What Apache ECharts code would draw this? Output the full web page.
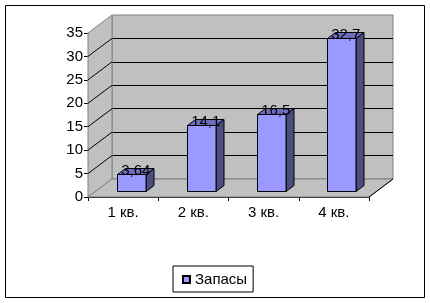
<!DOCTYPE html>
<html>
<head>
<meta charset="utf-8">
<script src="https://cdn.jsdelivr.net/npm/echarts@6/dist/echarts.min.js"></script>
<style>html,body{margin:0;padding:0;background:#fff}#c{width:430px;height:303px}</style>
</head>
<body>
<div id="c"></div>
<script>
const categories = ['1 кв.', '2 кв.', '3 кв.', '4 кв.'];
const values = [3.64, 14.1, 16.5, 32.7];
const valueLabels = ['3,64', '14,1', '16,5', '32,7'];
const seriesName = 'Запасы';
const yMin = 0, yMax = 35, yStep = 5;

const DX = 24, DY = -18;           // full depth offset
const FONT = '"Liberation Sans", Arial, sans-serif';
const FS = 15;

const chart = echarts.init(document.getElementById('c'), null, {renderer: 'canvas'});

function wallsRender(params, api) {
  if (params.dataIndex !== 0) return null;
  const cs = params.coordSys;
  const x0 = cs.x, x1 = cs.x + cs.width, yT = cs.y, yB = cs.y + cs.height;
  const children = [];
  children.push({type: 'polygon', shape: {points: [[x0, yB], [x0, yT], [x0 + DX, yT + DY], [x0 + DX, yB + DY]]},
    style: {fill: '#c0c0c0', stroke: '#808080', lineWidth: 1}});
  children.push({type: 'polygon', shape: {points: [[x0, yB], [x1, yB], [x1 + DX, yB + DY], [x0 + DX, yB + DY]]},
    style: {fill: '#c0c0c0', stroke: '#808080', lineWidth: 1}});
  for (let v = yMin + yStep; v < yMax; v += yStep) {
    const p = api.coord([0, v]);
    children.push({type: 'line', shape: {x1: x0, y1: p[1], x2: x0 + DX, y2: p[1] + DY},
      style: {stroke: '#000', lineWidth: 1}});
  }
  children.push({type: 'line', shape: {x1: x1, y1: yB, x2: x1 + DX, y2: yB + DY}, style: {stroke: '#000', lineWidth: 1}});
  return {type: 'group', children: children};
}

function barRender(params, api) {
  const i = api.value(0), v = api.value(1);
  const base = api.coord([i, 0]);
  const top = api.coord([i, v]);
  const band = api.size([1, 0])[0];
  const w = band * 0.41;
  const fx = DX / 3, fy = DY / 3;
  const dx = DX / 3, dy = DY / 3;
  const x0 = Math.round(base[0] - w / 2 + fx) + 0.5;
  const x1 = Math.round(x0 + w);
  const yb = Math.round(base[1] + fy) + 0.5;
  const yt = Math.round(top[1] + fy) + 0.5;
  const st = {stroke: '#000', lineWidth: 1};
  return {type: 'group', children: [
    {type: 'polygon', shape: {points: [[x1, yb], [x1, yt], [x1 + dx, yt + dy], [x1 + dx, yb + dy]]},
      style: Object.assign({fill: '#4d4d80'}, st)},
    {type: 'polygon', shape: {points: [[x0, yt], [x1, yt], [x1 + dx, yt + dy], [x0 + dx, yt + dy]]},
      style: Object.assign({fill: '#6e6ebb'}, st)},
    {type: 'rect', shape: {x: x0, y: yt, width: x1 - x0, height: yb - yt},
      style: Object.assign({fill: '#9999ff'}, st)},
    {type: 'text', x: (x0 + x1) / 2 + dx / 2, y: yt + dy / 2 - 1,
      style: {text: valueLabels[params.dataIndex], fill: '#000', font: FS + 'px ' + FONT,
        align: 'center', verticalAlign: 'middle'}}
  ]};
}

const option = {
  animation: false,
  backgroundColor: '#fff',
  textStyle: {fontFamily: FONT},
  graphic: [{type: 'rect', shape: {x: 5.5, y: 5.5, width: 419, height: 292},
    style: {fill: null, stroke: '#000', lineWidth: 1}, z: 100, silent: true}],
  legend: {
    data: [seriesName], left: 173, top: 266, orient: 'horizontal',
    borderColor: '#000', borderWidth: 1, padding: [6, 6, 5, 9],
    itemWidth: 7, itemHeight: 7, itemGap: 4, icon: 'rect',
    textStyle: {fontSize: FS, color: '#000', fontFamily: FONT}
  },
  grid: [
    {left: 88, right: 61, top: 33, bottom: 106, show: false},
    {left: 88 + DX, right: 61 - DX, top: 33 + DY, bottom: 106 - DY, show: true,
      backgroundColor: '#c0c0c0', borderColor: '#808080', borderWidth: 1}
  ],
  xAxis: [
    {type: 'category', gridIndex: 0, data: categories, boundaryGap: true,
      axisLine: {lineStyle: {color: '#000', width: 1}},
      axisTick: {show: true, length: 4, lineStyle: {color: '#000'}},
      axisLabel: {color: '#000', fontSize: FS, margin: 8, fontFamily: FONT}},
    {type: 'category', gridIndex: 1, data: categories, show: false}
  ],
  yAxis: [
    {type: 'value', gridIndex: 0, min: yMin, max: yMax, interval: yStep,
      axisLine: {show: true, lineStyle: {color: '#000', width: 1}},
      axisTick: {show: true, length: 4, lineStyle: {color: '#000'}},
      axisLabel: {color: '#000', fontSize: FS, margin: 5, fontFamily: FONT},
      splitLine: {show: false}},
    {type: 'value', gridIndex: 1, min: yMin, max: yMax, interval: yStep,
      axisLine: {show: false}, axisTick: {show: false}, axisLabel: {show: false},
      splitLine: {show: true, showMinLine: false, showMaxLine: false, lineStyle: {color: '#000', width: 1}}}
  ],
  series: [
    {type: 'custom', name: '_walls', xAxisIndex: 0, yAxisIndex: 0, renderItem: wallsRender,
      data: [[0, 0]], z: 1, silent: true, legendHoverLink: false},
    {type: 'custom', name: seriesName, xAxisIndex: 0, yAxisIndex: 0, renderItem: barRender,
      itemStyle: {color: '#9999ff', borderColor: '#000', borderWidth: 1},
      data: values.map((v, i) => [i, v]), z: 3}
  ]
};
chart.setOption(option);
</script>
</body>
</html>
